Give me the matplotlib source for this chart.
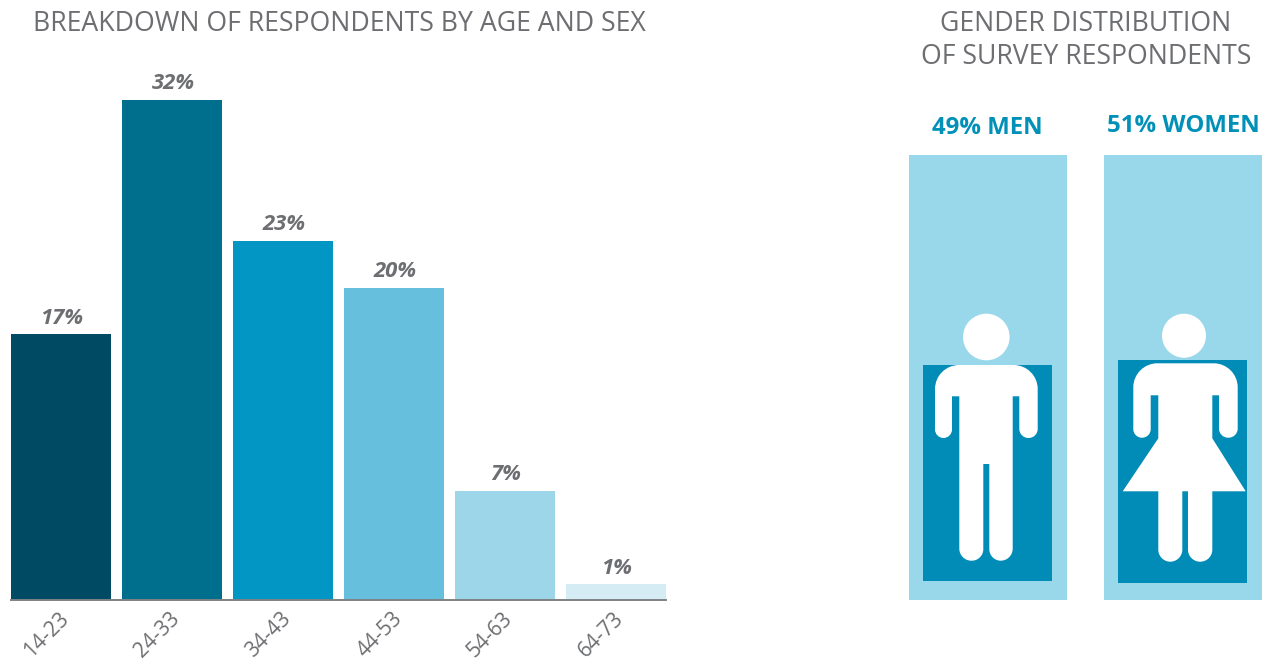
import matplotlib
matplotlib.use("Agg")
import matplotlib.pyplot as plt
from matplotlib.patches import Circle, PathPatch, Rectangle
from matplotlib.path import Path
from matplotlib.transforms import ScaledTranslation
import numpy as np

age_groups = ["14-23", "24-33", "34-43", "44-53", "54-63", "64-73"]
age_shares = [17, 32, 23, 20, 7, 1]
bar_colors = ["#004a63", "#006f8e", "#0296c4", "#66bfdc", "#9dd5e9", "#d5ecf4"]

gender_labels = ["49% MEN", "51% WOMEN"]
gender_shares = [49, 51]

GRAY = "#6d6e71"
BLUE = "#0090b8"
plt.rcParams["font.family"] = ["Open Sans", "DejaVu Sans"]


def rounded_shape(points):
    # points are (x, y, corner radius), in pixels of the figure
    k = 0.55
    verts, codes = [], []
    n = len(points)
    for i, (x, y, r) in enumerate(points):
        p = np.array([x, y], float)
        a = np.array(points[i - 1][:2], float)
        b = np.array(points[(i + 1) % n][:2], float)
        if r == 0:
            verts.append(p)
            codes.append(Path.LINETO)
            continue
        ua = (a - p) / np.linalg.norm(a - p)
        ub = (b - p) / np.linalg.norm(b - p)
        verts += [p + ua * r, p + ua * r * (1 - k), p + ub * r * (1 - k), p + ub * r]
        codes += [Path.LINETO, Path.CURVE4, Path.CURVE4, Path.CURVE4]
    codes[0] = Path.MOVETO
    verts.append(verts[0])
    codes.append(Path.CLOSEPOLY)
    return Path(verts, codes)


fig = plt.figure(figsize=(12.68, 6.62), dpi=100)

# age bars
ax = fig.add_axes([11 / 1268, 62 / 662, 655 / 1268, 500 / 662])
ax.bar(range(len(age_groups)), age_shares, width=100 / 111, color=bar_colors)
ax.set_xlim(-50 / 111, 5 + 50 / 111)
ax.set_ylim(0, 32)
for s in ["top", "left", "right"]:
    ax.spines[s].set_visible(False)
ax.spines["bottom"].set_color("#7f8285")
ax.spines["bottom"].set_linewidth(1.4)
ax.set_yticks([])
ax.set_xticks(range(len(age_groups)))
ax.set_xticklabels(age_groups, rotation=45, fontsize=15, color=GRAY, ha="center")
ax.tick_params(axis="x", length=0, pad=6)
shift = ScaledTranslation(-14.5 / 100, 0, fig.dpi_scale_trans)
for lab in ax.get_xticklabels():
    lab.set_transform(lab.get_transform() + shift)
for i, v in enumerate(age_shares):
    ax.annotate(f"{v}%", (i, v), xytext=(0.7, 4), textcoords="offset points", ha="center", va="bottom",
                fontsize=15.8, fontweight="bold", fontstyle="italic", color=GRAY)

# overlay in pixel coordinates, for the titles and pictograms
ov = fig.add_axes([0, 0, 1, 1])
ov.set_xlim(0, 1268)
ov.set_ylim(662, 0)
ov.axis("off")
ov.patch.set_alpha(0)

ov.text(339, 24, "BREAKDOWN OF RESPONDENTS BY AGE AND SEX", ha="center", va="center", fontsize=19.15, color=GRAY)
ov.text(1086, 24, "GENDER DISTRIBUTION", ha="center", va="center", fontsize=19.15, color=GRAY)
ov.text(1086, 56.5, "OF SURVEY RESPONDENTS", ha="center", va="center", fontsize=19.15, color=GRAY)

panel_x = [909, 1104]
fill_x = [923, 1118]
fill_mid = [473, 471.5]
label_x = [987.5, 1183.5]
label_y = [128, 126]
for i in range(2):
    ov.add_patch(Rectangle((panel_x[i], 155), 158, 445, color="#98d8ea", lw=0))
    h = gender_shares[i] * 4.39
    ov.add_patch(Rectangle((fill_x[i], fill_mid[i] - h / 2), 129, h, color="#008cb6", lw=0))
    ov.text(label_x[i], label_y[i], gender_labels[i], ha="center", va="center", fontsize=17.3, fontweight="bold", color=BLUE)

man = [
    (935, 365, 24), (1037.7, 365, 24), (1037.7, 438, 9), (1019.3, 438, 9), (1019.3, 396.3, 0),
    (1012.7, 396.3, 0), (1012.7, 560.7, 12), (989.3, 560.7, 11.5), (989.3, 464, 0), (983.3, 464, 0),
    (983.3, 560.7, 11.5), (959.3, 560.7, 12), (959.3, 396.3, 0), (952, 396.3, 0), (952, 438, 8.5), (935, 438, 8.5),
]
woman = [
    (1133.3, 363.3, 24), (1237.7, 363.3, 24), (1237.7, 437.7, 9), (1219, 437.7, 9), (1219, 395.3, 0),
    (1212.3, 395.3, 0), (1212.3, 438.3, 0), (1245.7, 491.3, 0), (1212.3, 491.3, 0), (1212.3, 561.7, 12),
    (1188, 561.7, 12), (1188, 491.3, 0), (1182.3, 491.3, 0), (1182.3, 561.7, 12), (1158.3, 561.7, 12),
    (1158.3, 491.3, 0), (1122.7, 491.3, 0), (1158.3, 438.3, 0), (1158.3, 395.3, 0), (1150.7, 395.3, 0),
    (1150.7, 437.7, 8.5), (1133.3, 437.7, 8.5),
]
ov.add_patch(PathPatch(rounded_shape(man), color="white", lw=0))
ov.add_patch(PathPatch(rounded_shape(woman), color="white", lw=0))
ov.add_patch(Circle((986.3, 337), 23.3, color="white", lw=0))
ov.add_patch(Circle((1184, 335.7), 22, color="white", lw=0))

fig.savefig("out.png", dpi=100)
plt.close(fig)
